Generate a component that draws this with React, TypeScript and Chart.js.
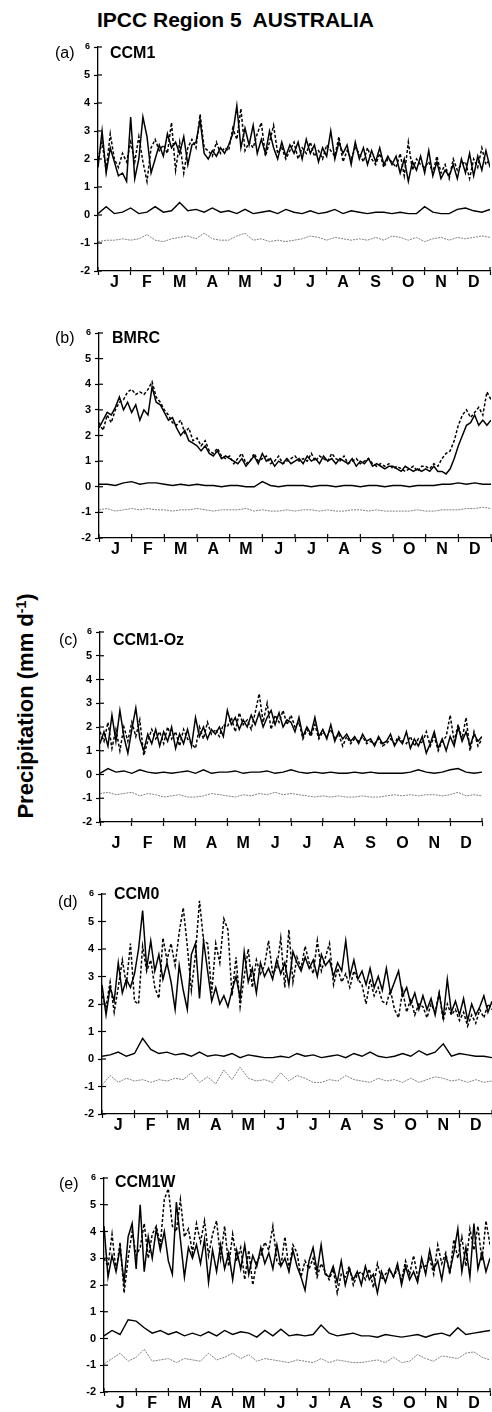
import React, { useEffect, useRef } from 'react';
import { Chart, registerables } from 'chart.js';

Chart.register(...registerables);

const FONT = '"Liberation Sans", Arial, Helvetica, sans-serif';

const MONTHS = ['J', 'F', 'M', 'A', 'M', 'J', 'J', 'A', 'S', 'O', 'N', 'D'];
const Y_MIN = -2;
const Y_MAX = 6;

// ---------- (a) CCM1 ----------
const ccm1Solid = [
  1.7, 3.0, 1.5, 2.4, 1.9, 1.4, 1.5, 1.2,
  3.5, 1.3, 2.0, 3.5, 2.8, 1.5, 2.0, 2.5,
  2.1, 2.9, 2.4, 2.6, 2.2, 2.8, 1.8, 2.5,
  2.6, 3.4, 2.2, 2.0, 2.3, 2.1, 2.4, 2.2,
  2.5, 2.9, 3.9, 2.4, 3.1, 2.5, 3.2, 2.2,
  2.7, 2.2, 3.0, 2.4, 2.0, 2.6, 2.1, 2.5,
  2.2, 2.6, 2.0, 2.7, 2.2, 2.5, 1.9, 2.4,
  2.1, 3.0, 2.0, 2.6, 2.2, 2.5, 1.8, 2.6,
  2.0, 2.4, 1.8, 2.3, 1.9, 2.4, 1.8, 2.1,
  1.8, 2.1, 1.5, 2.0, 1.2, 1.9, 1.6, 2.1,
  1.5, 2.3, 1.4, 1.9, 1.3, 1.6, 1.4, 1.8,
  1.3, 2.0, 1.5, 2.2, 1.4, 2.1, 1.6, 2.3,
  1.7,
];
const ccm1Dashed = [
  2.0, 2.6, 1.6, 2.9, 2.0, 1.7, 2.2, 1.9,
  2.6, 1.9, 2.8, 1.9, 1.2, 2.4, 2.7, 2.3,
  2.5, 2.2, 3.3, 1.6, 2.6, 1.5, 2.4, 2.7,
  2.4, 3.6, 2.4, 2.3, 2.1, 2.6, 2.2, 2.4,
  2.3, 3.1, 2.7, 3.8, 2.3, 2.6, 2.4, 2.9,
  3.3, 2.1, 2.6, 3.2, 2.2, 2.4, 2.0, 2.3,
  2.6, 2.0, 2.4, 2.2, 2.6, 2.1, 2.3, 2.0,
  2.5, 2.3, 2.1, 2.8, 1.9, 2.3, 2.0, 2.4,
  2.2, 1.9, 2.4, 2.0, 1.8, 2.2, 1.7, 2.0,
  1.9, 1.7, 2.2, 1.4, 2.6, 1.6, 2.0, 1.8,
  1.7, 1.9, 1.5, 2.1, 1.5, 1.8, 1.3, 2.0,
  1.6, 1.8, 1.9, 1.3, 2.0, 1.7, 2.4, 1.8,
  2.0,
];
const ccm1Zero = [
  0.05, 0.3, 0.05, 0.1, 0.25, 0.05, 0.1, 0.3,
  0.1, 0.15, 0.45, 0.15, 0.2, 0.1, 0.25, 0.1,
  0.15, 0.05, 0.2, 0.05, 0.1, 0.15, 0.05, 0.2,
  0.1, 0.05, 0.15, 0.05, 0.1, 0.2, 0.05, 0.15,
  0.1, 0.05, 0.1, 0.1, 0.05, 0.1, 0.05, 0.05,
  0.3, 0.1, 0.05, 0.05, 0.2, 0.25, 0.15, 0.1,
  0.2,
];
const ccm1Gray = [
  -0.95, -0.9, -0.9, -0.85, -0.9, -0.85, -0.7, -0.9,
  -0.95, -0.85, -0.8, -0.75, -0.85, -0.65, -0.85, -0.9,
  -0.9, -0.75, -0.65, -0.9, -0.85, -0.95, -0.9, -0.95,
  -0.9, -0.85, -0.75, -0.8, -0.9, -0.8, -0.85, -0.9,
  -0.85, -0.9, -0.8, -0.9, -0.75, -0.8, -0.9, -0.8,
  -0.95, -0.85, -0.8, -0.9, -0.8, -0.85, -0.8, -0.75,
  -0.8,
];

// ---------- (b) BMRC ----------
const bmrcSolid = [
  2.3, 2.6, 2.9, 2.8, 3.1, 3.5, 3.0, 3.3,
  2.9, 3.2, 2.6, 3.0, 2.8, 3.9, 3.3, 3.2,
  2.9, 2.6, 2.7, 2.3, 2.0, 2.2, 1.8, 1.7,
  1.6, 1.4, 1.6, 1.3, 1.2, 1.4, 1.1, 1.2,
  1.1, 1.0, 0.9, 1.1, 0.8, 1.0, 1.2, 0.9,
  1.3, 1.0, 1.1, 0.8, 1.0, 0.9, 1.1, 0.9,
  1.0, 1.1, 0.9, 1.2, 1.0, 1.1, 0.9, 1.2,
  1.0, 1.1, 0.9, 1.1, 1.0, 0.9, 1.1, 0.8,
  1.0, 0.9, 1.1, 0.8, 0.9, 0.8, 0.7, 0.8,
  0.8, 0.7, 0.6, 0.8, 0.7, 0.6, 0.7, 0.6,
  0.7, 0.6, 0.8, 0.6, 0.6, 0.5, 0.7, 1.1,
  1.6, 2.0, 2.4, 2.5, 2.8, 2.4, 2.6, 2.4,
  2.6,
];
const bmrcDashed = [
  2.5, 2.2, 2.8, 2.5, 3.0, 3.3, 3.4, 3.7,
  3.8, 3.6, 3.7, 3.6, 3.8, 4.1, 3.5, 3.3,
  3.0, 2.8, 2.5, 2.4, 2.6, 2.1, 2.3, 1.8,
  1.9, 1.6, 1.8, 1.4, 1.3, 1.5, 1.2, 1.1,
  1.2, 0.9, 1.1, 1.3, 0.9, 1.0, 1.3, 1.0,
  1.1, 1.2, 0.9, 1.0, 1.2, 0.9, 1.0, 1.1,
  1.2, 1.0, 1.1, 1.0, 1.3, 1.0, 1.2, 1.1,
  1.0, 1.3, 1.1, 1.0, 1.2, 0.9, 1.0, 1.1,
  0.9, 1.0, 1.1, 0.9, 0.8, 0.9, 0.8, 0.9,
  0.7, 0.8, 0.7, 0.6, 0.7, 0.8, 0.6, 0.8,
  0.8, 0.7, 0.9, 0.8, 1.1, 1.3, 1.4, 1.8,
  2.4, 2.8, 3.0, 2.7, 2.9, 3.1, 2.8, 3.7,
  3.4,
];
const bmrcZero = [
  0.1, 0.1, 0.05, 0.15, 0.2, 0.1, 0.15, 0.15,
  0.1, 0.05, 0.1, 0.05, 0.1, 0.05, 0.05, 0.0,
  0.05, 0.05, 0.0, 0.0, 0.2, 0.05, 0.0, 0.05,
  0.05, 0.05, 0.0, 0.05, 0.05, 0.0, 0.05, 0.05,
  0.0, 0.05, 0.05, 0.0, 0.05, 0.05, 0.0, 0.05,
  0.05, 0.05, 0.1, 0.1, 0.15, 0.1, 0.15, 0.1,
  0.1,
];
const bmrcGray = [
  -0.9, -0.85, -0.95, -0.9, -0.85, -0.9, -0.85, -0.9,
  -0.9, -0.95, -0.9, -0.9, -0.85, -0.9, -0.95, -0.9,
  -0.9, -0.9, -0.85, -0.95, -0.9, -0.95, -0.95, -0.9,
  -0.95, -0.9, -0.9, -0.95, -0.9, -0.95, -0.95, -0.9,
  -0.9, -0.95, -0.9, -0.95, -0.95, -0.95, -0.95, -0.9,
  -0.95, -0.95, -0.9, -0.9, -0.9, -0.85, -0.85, -0.8,
  -0.85,
];

// ---------- (c) CCM1-Oz ----------
const ozSolid = [
  1.3, 1.8, 1.2, 2.5, 1.4, 2.7, 1.6, 0.9,
  1.9, 2.8, 1.5, 1.0, 1.7, 1.3, 1.9, 1.2,
  1.8, 1.4, 2.0, 1.1, 1.7, 1.3, 1.9, 1.2,
  2.4, 1.6, 2.0, 1.5, 1.9, 1.7, 2.0, 1.6,
  2.7, 2.1, 2.4, 1.9, 2.3, 2.0, 2.5, 2.1,
  2.6, 2.0, 2.4, 2.7, 2.1, 2.6, 2.0, 2.3,
  2.2, 1.8, 2.4, 1.6, 2.0, 1.7, 2.4, 1.6,
  1.9, 1.5, 2.1, 1.4, 1.8, 1.5, 1.7, 1.4,
  1.6, 1.3, 1.7, 1.4, 1.5, 1.2, 1.6, 1.3,
  1.4, 1.7, 1.2, 1.5, 1.3, 1.8, 1.1, 1.5,
  1.2, 1.6, 0.9, 1.3, 1.8, 1.1, 1.5, 1.0,
  1.6, 1.2, 2.0, 1.4, 1.8, 1.2, 1.7, 1.4,
  1.6,
];
const ozDashed = [
  1.8, 1.4, 2.2, 1.1, 1.9, 1.0, 2.0, 1.4,
  2.2, 1.6, 2.3, 0.8, 1.4, 1.9, 1.5, 1.8,
  1.3, 2.0, 1.5, 1.8, 1.2, 1.9, 1.5, 1.3,
  1.1, 2.0, 1.5, 2.2, 1.7, 1.9, 1.6, 2.1,
  2.0, 2.4, 1.8, 2.6, 2.1, 2.3, 1.9, 2.6,
  3.4, 2.2, 3.0, 1.9, 2.5, 2.2, 2.7, 2.1,
  2.5, 2.0, 2.2, 1.5, 1.9, 1.6, 2.1, 1.5,
  1.8, 1.6, 1.9, 1.5, 1.7, 1.2, 1.6, 1.3,
  1.5, 1.4, 1.6, 1.3, 1.4, 1.3, 1.5, 1.2,
  1.3, 1.5, 1.3, 1.6, 1.4, 1.3, 1.6, 1.2,
  1.5, 1.3, 1.8, 1.2, 1.6, 1.0, 1.4, 1.6,
  2.5, 1.4, 2.1, 1.5, 2.4, 1.0, 1.8, 1.2,
  1.5,
];
const ozZero = [
  0.05, 0.25, 0.1, 0.15, 0.05, 0.2, 0.1, 0.05,
  0.1, 0.05, 0.1, 0.15, 0.05, 0.2, 0.05, 0.1,
  0.1, 0.15, 0.05, 0.1, 0.1, 0.15, 0.05, 0.1,
  0.2, 0.1, 0.05, 0.1, 0.05, 0.1, 0.05, 0.05,
  0.1, 0.05, 0.1, 0.05, 0.05, 0.05, 0.05, 0.1,
  0.2, 0.1, 0.05, 0.1, 0.2, 0.25, 0.1, 0.05,
  0.1,
];
const ozGray = [
  -0.8, -0.75, -0.85, -0.8, -0.75, -0.9, -0.8, -0.85,
  -0.95, -0.9, -0.85, -0.95, -0.95, -0.9, -0.8, -0.85,
  -0.9, -0.95, -0.85, -0.9, -0.8, -0.85, -0.75, -0.85,
  -0.8, -0.85, -0.9, -0.95, -0.9, -0.95, -0.9, -0.95,
  -0.95, -0.9, -0.95, -0.95, -0.9, -0.85, -0.9, -0.85,
  -0.9, -0.85, -0.85, -0.9, -0.85, -0.75, -0.9, -0.85,
  -0.9,
];

// ---------- (d) CCM0 ----------
const ccm0Solid = [
  2.7, 1.6, 2.6, 2.1, 3.5, 2.4, 2.9, 2.6,
  3.1, 4.0, 5.4, 3.3, 4.3, 3.2, 3.8, 2.9,
  3.5, 2.8, 1.8, 3.4, 2.5, 1.8, 3.8, 4.2,
  2.2, 4.3, 3.2, 2.1, 2.6, 2.0, 2.3, 1.9,
  2.5, 3.0, 2.2, 3.9, 2.8, 3.3, 2.4, 3.5,
  3.0, 3.3, 2.9, 3.6, 3.1, 3.5, 2.7, 3.9,
  3.5, 3.2, 3.7, 3.3, 3.6, 3.0, 3.8, 3.4,
  3.6, 3.0, 3.5, 3.2, 4.3, 3.0, 3.6, 2.9,
  3.2, 2.7, 3.3, 2.6, 3.0, 2.5, 3.3, 2.4,
  2.8, 3.2, 2.3, 2.6, 2.0, 2.4, 1.8, 2.3,
  1.8, 2.2, 1.6, 2.4, 1.5, 2.9, 1.7, 2.1,
  1.6, 2.2, 1.4, 2.0, 1.6, 1.9, 2.3, 1.7,
  2.1,
];
const ccm0Dashed = [
  2.3, 1.9, 2.8, 1.7, 2.6, 3.6, 2.7, 4.2,
  2.1, 2.0, 4.1, 3.2, 3.6, 2.6, 2.2, 4.4,
  3.6, 4.2, 3.4, 4.6, 5.5, 4.1, 2.5, 3.8,
  5.75, 4.3, 4.2, 2.4, 4.2, 3.5, 5.1, 4.7,
  2.3, 3.7, 1.9, 3.0, 4.0, 2.6, 3.6, 3.1,
  3.4, 4.3, 3.1, 3.3, 4.4, 2.6, 4.7, 2.8,
  3.7, 3.3, 4.1, 3.5, 3.1, 4.3, 3.2, 3.7,
  4.2, 2.7, 3.3, 2.8, 3.1, 2.6, 3.2, 2.9,
  2.7, 2.0, 2.9, 2.3, 2.6, 2.1, 2.0, 2.5,
  1.8, 1.5, 2.5, 1.7, 2.2, 1.6, 2.0, 1.9,
  1.5, 2.0, 1.7, 2.4, 1.4, 2.0, 1.6, 1.8,
  1.4, 1.7, 1.2, 1.6, 1.3, 1.8, 1.5, 2.0,
  1.8,
];
const ccm0Zero = [
  0.1, 0.15, 0.25, 0.1, 0.2, 0.75, 0.35, 0.2,
  0.25, 0.15, 0.2, 0.1, 0.25, 0.1, 0.15, 0.1,
  0.2, 0.05, 0.15, 0.1, 0.05, 0.05, 0.1, 0.05,
  0.2, 0.1, 0.15, 0.05, 0.1, 0.15, 0.05, 0.2,
  0.1, 0.25, 0.1, 0.05, 0.1, 0.2, 0.1, 0.3,
  0.15, 0.25, 0.55, 0.1, 0.2, 0.15, 0.1, 0.1,
  0.05,
];
const ccm0Gray = [
  -0.95, -0.6, -0.85, -0.7, -0.8, -0.75, -0.85, -0.75,
  -0.8, -0.7, -0.75, -0.5, -0.85, -0.65, -0.9, -0.4,
  -0.75, -0.3, -0.7, -0.8, -0.75, -0.85, -0.5, -0.8,
  -0.6, -0.7, -0.85, -0.85, -0.75, -0.8, -0.6, -0.75,
  -0.8, -0.85, -0.7, -0.8, -0.75, -0.85, -0.7, -0.85,
  -0.75, -0.65, -0.7, -0.8, -0.75, -0.85, -0.75, -0.85,
  -0.8,
];

// ---------- (e) CCM1W ----------
const ccm1wSolid = [
  4.2, 2.3, 3.1, 2.5, 3.4, 2.1, 3.8, 4.3,
  2.6, 5.0, 2.5, 3.8, 3.0, 4.1, 3.3, 4.0,
  2.9, 2.4, 5.1, 3.7, 2.3, 3.4, 3.0, 3.5,
  2.8, 3.7, 2.1, 3.3, 2.5, 3.5, 2.6, 3.2,
  2.2, 3.3, 2.6, 3.5, 2.4, 3.1, 2.7, 3.4,
  2.8, 3.2, 2.6, 3.5, 2.7, 3.0, 2.5, 3.3,
  2.7, 2.3, 1.8, 2.9, 3.4, 2.5, 3.5, 2.4,
  2.3, 2.7, 2.1, 2.9, 2.0, 2.6, 2.2, 2.5,
  2.0, 2.7, 2.2, 2.4, 1.7, 2.5, 2.1, 2.6,
  2.3, 2.8, 2.0, 2.7, 2.2, 2.5, 2.1, 3.0,
  2.4, 3.3, 2.6, 2.9, 2.2, 3.1, 2.5, 3.2,
  4.1, 2.5, 3.4, 2.3, 4.3, 2.6, 3.2, 2.5,
  3.0,
];
const ccm1wDashed = [
  3.0, 2.7, 3.9, 2.5, 3.6, 1.7, 3.0, 4.0,
  3.1, 3.4, 4.3, 3.0, 3.9, 4.2, 3.5, 5.2,
  5.6, 4.2, 4.0, 5.2, 3.8, 4.1, 3.2, 4.3,
  3.6, 4.4, 3.1, 3.9, 4.4, 3.0, 4.2, 2.7,
  3.9, 2.9, 3.4, 2.2, 3.3, 2.0, 2.9, 3.1,
  3.6, 3.3, 4.2, 2.9, 2.7, 3.8, 2.6, 3.5,
  3.2, 2.3, 2.9, 2.6, 3.0, 2.3, 2.8, 2.5,
  2.2, 2.6, 1.7, 2.4, 2.3, 2.7, 2.0, 2.4,
  2.5, 2.2, 2.6, 1.9, 2.8, 2.2, 2.4, 2.6,
  2.3, 2.6, 2.2, 2.9, 2.4, 3.1, 2.3, 2.7,
  2.7, 3.0, 2.4, 3.5, 2.8, 3.2, 2.4, 3.7,
  3.0, 3.8, 2.7, 4.1, 3.3, 4.2, 2.9, 4.4,
  3.5,
];
const ccm1wZero = [
  0.1, 0.3, 0.15, 0.7, 0.65, 0.4, 0.2, 0.3,
  0.15, 0.25, 0.1, 0.2, 0.1, 0.25, 0.1, 0.3,
  0.15, 0.25, 0.2, 0.05, 0.3, 0.1, 0.35, 0.1,
  0.15, 0.1, 0.15, 0.5, 0.2, 0.1, 0.15, 0.2,
  0.1, 0.1, 0.05, 0.15, 0.1, 0.05, 0.1, 0.15,
  0.05, 0.15, 0.2, 0.1, 0.4, 0.15, 0.2, 0.25,
  0.3,
];
const ccm1wGray = [
  -0.95, -0.75, -0.55, -0.85, -0.7, -0.4, -0.85, -0.8,
  -0.75, -0.9, -0.75, -0.8, -0.85, -0.55, -0.8, -0.7,
  -0.55, -0.75, -0.6, -0.85, -0.75, -0.8, -0.85, -0.9,
  -0.8, -0.85, -0.9, -0.75, -0.9, -0.8, -0.85, -0.9,
  -0.9, -0.85, -0.8, -0.9, -0.7, -0.9, -0.85, -0.6,
  -0.75, -0.85, -0.65, -0.7, -0.75, -0.55, -0.5, -0.7,
  -0.8,
];

type PanelCfg = {
  tag: string;
  name: string;
  solid: number[];
  dashed: number[];
  zero: number[];
  gray: number[];
  top: number; // pixel of y=6
  bottom: number; // pixel of y=-2
  left: number;
  right: number;
  labelPad: number;
  tagPos: [number, number];
  namePos: [number, number];
};

const PANELS: PanelCfg[] = [
  { tag: '(a)', name: 'CCM1', solid: ccm1Solid, dashed: ccm1Dashed, zero: ccm1Zero, gray: ccm1Gray,
    top: 47, bottom: 271, left: 98, right: 490, labelPad: 0, tagPos: [55, 53], namePos: [110, 53] },
  { tag: '(b)', name: 'BMRC', solid: bmrcSolid, dashed: bmrcDashed, zero: bmrcZero, gray: bmrcGray,
    top: 333, bottom: 538, left: 99, right: 491, labelPad: 0, tagPos: [55, 338], namePos: [112, 338] },
  { tag: '(c)', name: 'CCM1-Oz', solid: ozSolid, dashed: ozDashed, zero: ozZero, gray: ozGray,
    top: 632, bottom: 822, left: 100, right: 490, labelPad: 10, tagPos: [59, 640], namePos: [113, 640] },
  { tag: '(d)', name: 'CCM0', solid: ccm0Solid, dashed: ccm0Dashed, zero: ccm0Zero, gray: ccm0Gray,
    top: 894, bottom: 1114, left: 102, right: 492, labelPad: 0, tagPos: [58, 902], namePos: [114, 894] },
  { tag: '(e)', name: 'CCM1W', solid: ccm1wSolid, dashed: ccm1wDashed, zero: ccm1wZero, gray: ccm1wGray,
    top: 1178, bottom: 1392, left: 104, right: 490, labelPad: 0, tagPos: [59, 1184], namePos: [115, 1182] },
];

const toPoints = (arr: number[]) => arr.map((y, i) => ({ x: (i * 12) / (arr.length - 1), y }));

const X_TICKS: number[] = [];
for (let m = 0; m <= 12; m++) {
  X_TICKS.push(m);
  if (m < 12) X_TICKS.push(m + 0.5);
}

const innerTicks = {
  id: 'innerTicks',
  afterDraw(chart: any) {
    const { ctx, chartArea, scales } = chart;
    ctx.save();
    ctx.strokeStyle = '#000';
    ctx.lineWidth = 1.2;
    scales.y.ticks.forEach((t: any) => {
      const py = scales.y.getPixelForValue(t.value);
      ctx.beginPath();
      ctx.moveTo(chartArea.left, py);
      ctx.lineTo(chartArea.left + 4, py);
      ctx.stroke();
    });
    scales.x.ticks.forEach((t: any) => {
      if (!Number.isInteger(t.value)) return;
      const px = scales.x.getPixelForValue(t.value);
      ctx.beginPath();
      ctx.moveTo(px, chartArea.bottom);
      ctx.lineTo(px, chartArea.bottom - 4);
      ctx.stroke();
    });
    ctx.restore();
  },
};

const PAD_TOP = 12;

function Panel({ cfg }: { cfg: PanelCfg }) {
  const ref = useRef<HTMLCanvasElement | null>(null);
  const xAxisH = 30 + cfg.labelPad;
  const canvasTop = cfg.top - PAD_TOP;
  const canvasH = PAD_TOP + (cfg.bottom - cfg.top) + xAxisH;

  useEffect(() => {
    if (!ref.current) return;
    const chart = new Chart(ref.current, {
      type: 'line',
      data: {
        datasets: [
          { data: toPoints(cfg.solid), borderColor: '#000', borderWidth: 1.5, pointRadius: 0, tension: 0 },
          { data: toPoints(cfg.dashed), borderColor: '#000', borderWidth: 1.5, borderDash: [3, 2], pointRadius: 0, tension: 0 },
          { data: toPoints(cfg.zero), borderColor: '#000', borderWidth: 1.4, pointRadius: 0, tension: 0 },
          { data: toPoints(cfg.gray), borderColor: '#808080', borderWidth: 1, borderDash: [2, 1], pointRadius: 0, tension: 0 },
        ],
      },
      options: {
        responsive: false,
        animation: false,
        devicePixelRatio: 1,
        events: [],
        layout: { padding: { top: PAD_TOP, left: 0, right: 492 - cfg.right, bottom: 0 } },
        plugins: { legend: { display: false }, tooltip: { enabled: false }, title: { display: false } },
        scales: {
          x: {
            type: 'linear',
            min: 0,
            max: 12,
            afterBuildTicks: (s: any) => {
              s.ticks = X_TICKS.map((v) => ({ value: v }));
            },
            afterFit: (s: any) => {
              s.height = xAxisH;
            },
            border: { display: true, color: '#000', width: 1.3 },
            grid: {
              drawOnChartArea: false,
              tickLength: 4,
              tickColor: '#000',
              tickWidth: (c: any) => (c.tick && Number.isInteger(c.tick.value) ? 1.2 : 0),
            },
            ticks: {
              autoSkip: false,
              maxRotation: 0,
              minRotation: 0,
              padding: cfg.labelPad,
              color: '#000',
              font: { family: FONT, weight: 'bold', size: 16, lineHeight: 1 },
              callback: (v: any) => (Number.isInteger(v) ? '' : MONTHS[Math.floor(v)]),
            },
          },
          y: {
            type: 'linear',
            min: Y_MIN,
            max: Y_MAX,
            afterFit: (s: any) => {
              s.width = cfg.left;
            },
            border: { display: true, color: '#000', width: 1.3 },
            grid: { drawOnChartArea: false, tickLength: 4, tickColor: '#000', tickWidth: 1.2 },
            ticks: {
              stepSize: 1,
              padding: 4,
              color: '#000',
              font: (c: any) => ({
                family: FONT,
                weight: 'bold',
                size: c.tick && c.tick.value === Y_MAX ? 9 : 11,
              }),
              callback: (v: any) => String(v),
            },
          },
        },
      } as any,
      plugins: [innerTicks],
    });
    return () => chart.destroy();
  }, [cfg]);

  return (
    <>
      <canvas
        ref={ref}
        width={492}
        height={canvasH}
        style={{ position: 'absolute', left: 0, top: canvasTop, width: 492, height: canvasH, display: 'block' }}
      />
      <div style={{ position: 'absolute', left: cfg.tagPos[0], top: cfg.tagPos[1] - 10, fontSize: 16, lineHeight: '20px', fontFamily: FONT, color: '#000', whiteSpace: 'pre' }}>
        {cfg.tag}
      </div>
      <div style={{ position: 'absolute', left: cfg.namePos[0], top: cfg.namePos[1] - 10, fontSize: 16, lineHeight: '20px', fontFamily: FONT, fontWeight: 'bold', color: '#000', whiteSpace: 'pre' }}>
        {cfg.name}
      </div>
    </>
  );
}

export default function App() {
  return (
    <div style={{ position: 'absolute', left: 0, top: 0, width: 492, height: 1412, overflow: 'hidden', background: '#fff' }}>
      <div style={{ position: 'absolute', left: 97, top: 7, fontSize: 21, lineHeight: '26px', fontFamily: FONT, fontWeight: 'bold', color: '#000', whiteSpace: 'pre' }}>
        {'IPCC Region 5  AUSTRALIA'}
      </div>
      <div
        style={{
          position: 'absolute',
          left: 26 - 130,
          top: 706 - 14,
          width: 260,
          height: 28,
          lineHeight: '28px',
          textAlign: 'center',
          transform: 'rotate(-90deg)',
          transformOrigin: '130px 14px',
          fontSize: 22,
          fontFamily: FONT,
          fontWeight: 'bold',
          color: '#000',
          whiteSpace: 'pre',
        }}
      >
        Precipitation (mm d<sup style={{ fontSize: 14, verticalAlign: 'top', lineHeight: '18px' }}>-1</sup>)
      </div>
      {PANELS.map((p) => (
        <Panel key={p.tag} cfg={p} />
      ))}
    </div>
  );
}
